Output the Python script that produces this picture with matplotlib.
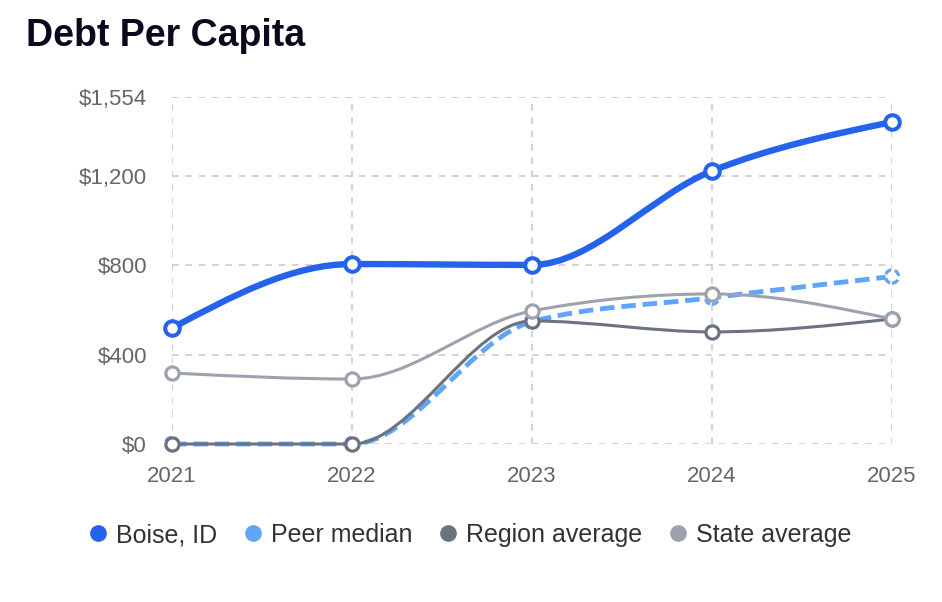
import numpy as np
import matplotlib
matplotlib.use("Agg")
import matplotlib.pyplot as plt
from matplotlib.path import Path
from matplotlib.patches import PathPatch
from matplotlib.lines import Line2D

plt.rcParams['font.family'] = ['Liberation Sans', 'DejaVu Sans']

years = [2021, 2022, 2023, 2024, 2025]
boise = [519, 806, 802, 1223, 1442]
peer = [0, 0, 548, 655, 750]
region = [0, 0, 551, 502, 560]
state = [318, 291, 596, 672, 560]
yticks = [0, 400, 800, 1200, 1554]
ytick_labels = ["$0", "$400", "$800", "$1,200", "$1,554"]
series_names = ["Boise, ID", "Peer median", "Region average", "State average"]
colors = ["#2563eb", "#60a5fa", "#6b7280", "#9ca3af"]

W, H = 942, 602
fig = plt.figure(figsize=(W / 100, H / 100), dpi=100)
L, R, T, B = 172, 892, 97, 444
ax = fig.add_axes([L / W, 1 - B / H, (R - L) / W, (B - T) / H])
ax.set_xlim(years[0], years[-1])
ax.set_ylim(0, yticks[-1])


def monotone_path(xs, ys):
    # d3 curveMonotoneX style cubic bezier path
    x = np.array(xs, float)
    y = np.array(ys, float)
    n = len(x)
    h = np.diff(x)
    s = np.diff(y) / h
    t = np.zeros(n)
    for i in range(1, n - 1):
        s0, s1 = s[i - 1], s[i]
        p = (s0 * h[i] + s1 * h[i - 1]) / (h[i - 1] + h[i])
        val = (np.sign(s0) + np.sign(s1)) * min(abs(s0), abs(s1), 0.5 * abs(p))
        t[i] = val if np.isfinite(val) else 0.0
    t[0] = (3 * s[0] - t[1]) / 2
    t[-1] = (3 * s[-1] - t[-2]) / 2
    verts = [(x[0], y[0])]
    codes = [Path.MOVETO]
    for i in range(n - 1):
        dx = (x[i + 1] - x[i]) / 3
        verts += [(x[i] + dx, y[i] + dx * t[i]),
                  (x[i + 1] - dx, y[i + 1] - dx * t[i + 1]),
                  (x[i + 1], y[i + 1])]
        codes += [Path.CURVE4] * 3
    return Path(np.array(verts), codes)


grid_kw = dict(color="#cccccc", lw=1.2, ls=(0, (4, 4)), zorder=0)
for yv in yticks:
    ax.axhline(yv, **grid_kw)
for xv in years:
    ax.axvline(xv, **grid_kw)

peer_dash = (0, (3, 1.4))
specs = [
    # data, color, lw, ls, zorder, marker size, marker edge
    (boise, colors[0], 4.6, '-', 6, 10.5, 2.9),
    (peer, colors[1], 3.5, peer_dash, 3, 9.5, 2.3),
    (region, colors[2], 2.2, '-', 4, 9.5, 2.3),
    (state, colors[3], 2.2, '-', 5, 9.5, 2.3),
]
for data, c, lw, ls, z, ms, mew in specs:
    path = monotone_path(years, data)
    patch = PathPatch(path, facecolor='none', edgecolor=c, lw=lw, ls=ls,
                      zorder=z, capstyle='butt', joinstyle='round', clip_on=False)
    ax.add_patch(patch)
    if ls == '-':
        ax.plot(years, data, ls='none', marker='o', ms=ms, mfc='white', mec=c,
                mew=mew, zorder=z + 0.5, clip_on=False)
    else:
        ax.scatter(years, data, s=ms ** 2, marker='o', facecolors='white',
                   edgecolors=c, linewidths=mew, linestyle=(0, (2.2, 1.2)),
                   zorder=z + 0.5, clip_on=False)

for s in ax.spines.values():
    s.set_visible(False)
ax.set_xticks(years)
ax.set_xticklabels([str(y) for y in years])
ax.set_yticks(yticks)
ax.set_yticklabels(ytick_labels)
ax.tick_params(length=0, labelsize=16, labelcolor="#666666")
ax.tick_params(axis='x', pad=16)
ax.tick_params(axis='y', pad=18)

fig.text(26 / W, 1 - 36 / H, "Debt Per Capita", fontsize=27, fontweight='bold',
         color="#0a0a1e", va='center', ha='left')

handles = [Line2D([], [], ls='none', marker='o', ms=11, mfc=c, mec=c) for c in colors]
fig.legend(handles, series_names, loc='center', bbox_to_anchor=(0.5, 1 - 535 / H),
           ncol=4, frameon=False, fontsize=18, handletextpad=0.42, columnspacing=1.14,
           handlelength=0.6, labelcolor="#333333", borderaxespad=0, borderpad=0)

fig.savefig("out.png", dpi=100)
